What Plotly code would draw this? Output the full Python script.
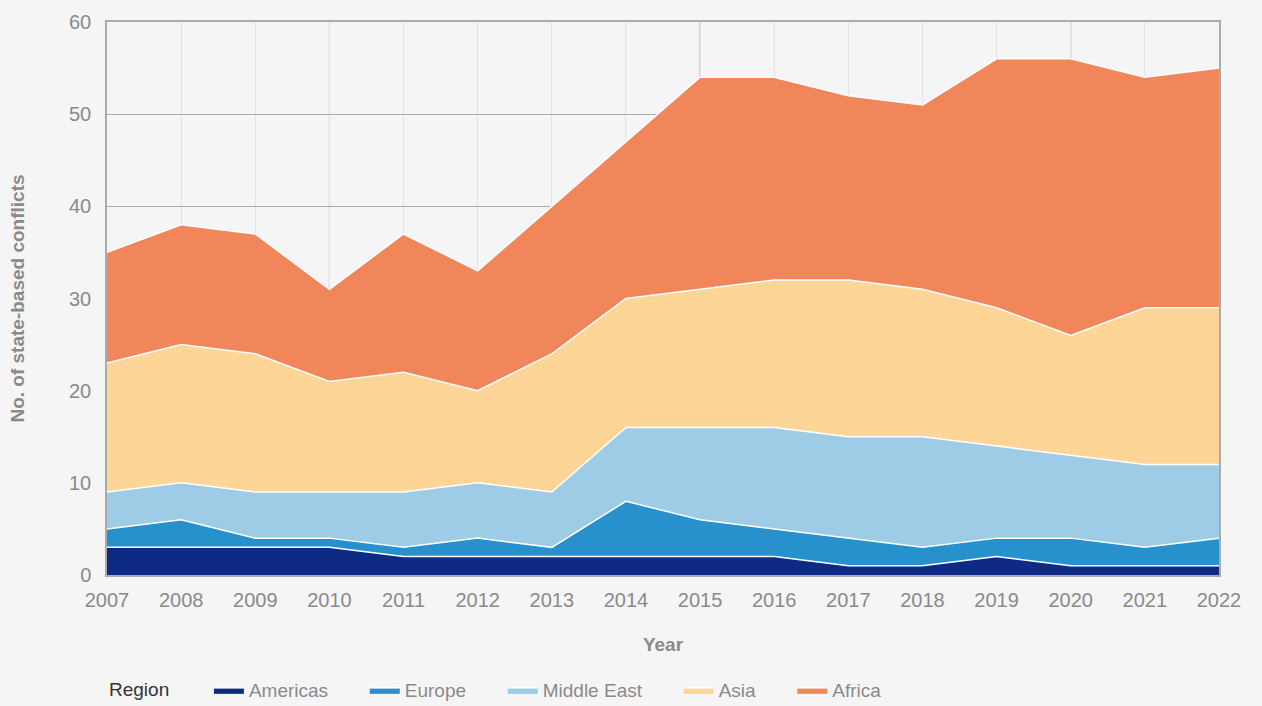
import plotly.graph_objects as go

years = list(range(2007, 2023))
americas = [3, 3, 3, 3, 2, 2, 2, 2, 2, 2, 1, 1, 2, 1, 1, 1]
europe = [2, 3, 1, 1, 1, 2, 1, 6, 4, 3, 3, 2, 2, 3, 2, 3]
middle_east = [4, 4, 5, 5, 6, 6, 6, 8, 10, 11, 11, 12, 10, 9, 9, 8]
asia = [14, 15, 15, 12, 13, 10, 15, 14, 15, 16, 17, 16, 15, 13, 17, 17]
africa = [12, 13, 13, 10, 15, 13, 16, 17, 23, 22, 20, 20, 27, 30, 25, 26]

series = [
    ("Americas", americas, "#0d2b84"),
    ("Europe", europe, "#2791cd"),
    ("Middle East", middle_east, "#9ecbe5"),
    ("Asia", asia, "#fdd596"),
    ("Africa", africa, "#f2865b"),
]
major_years = [2010, 2015, 2020]

FONT = "Liberation Sans, Arial, sans-serif"
BG = "#f5f5f5"
GAP = "\u00a0" * 6

fig = go.Figure()
for name, vals, color in series:
    fig.add_trace(go.Scatter(
        x=years, y=vals, name=name + GAP, mode="lines",
        stackgroup="one",
        line=dict(color="white", width=1.5),
        fillcolor=color,
        hovertemplate=name + ": %{y}<extra></extra>",
    ))

for yr in major_years:
    fig.add_shape(type="line", xref="x", yref="paper", x0=yr, x1=yr, y0=0, y1=1,
                  line=dict(color="#ababab", width=1), layer="below")

fig.update_layout(
    width=1262, height=706,
    paper_bgcolor=BG, plot_bgcolor=BG,
    margin=dict(l=107, r=43, t=22, b=131, autoexpand=False),
    font=dict(family=FONT, color="#8a8a8a", size=19),
    showlegend=True,
    legend=dict(
        orientation="h", xref="paper", x=0, xanchor="left",
        yref="container", y=1 - 690 / 706, yanchor="middle",
        title=dict(text="Region" + "\u00a0" * 6, font=dict(color="#333333", size=19)),
        font=dict(size=19, color="#8a8a8a"),
        traceorder="normal",
        itemwidth=30,
        bgcolor="rgba(0,0,0,0)",
    ),
    xaxis=dict(
        range=[2007, 2022], tickmode="linear", tick0=2007, dtick=1,
        showgrid=True, gridcolor="#e3e3e3", gridwidth=1,
        showline=True, linecolor="#ababab", linewidth=1.5, mirror=True,
        ticks="", ticklabelstandoff=6, automargin=False,
        tickfont=dict(size=20, color="#8a8a8a"),
        title=dict(text="<b>Year</b>", font=dict(size=19, color="#8a8a8a"), standoff=28),
        zeroline=False,
    ),
    yaxis=dict(
        range=[0, 60], tickmode="linear", tick0=0, dtick=10,
        showgrid=True, gridcolor="#ababab", gridwidth=1,
        showline=True, linecolor="#ababab", linewidth=1.5, mirror=True,
        ticks="", ticklabelstandoff=10, automargin=False,
        tickfont=dict(size=20, color="#8a8a8a"),
        title=dict(text="<b>No. of state-based conflicts</b>", font=dict(size=19, color="#8a8a8a"), standoff=39),
        zeroline=False,
    ),
)

fig.write_html(
    "out.html",
    config={"displayModeBar": False},
    post_script="document.body.style.margin='0';document.body.style.background='#f5f5f5';",
)
